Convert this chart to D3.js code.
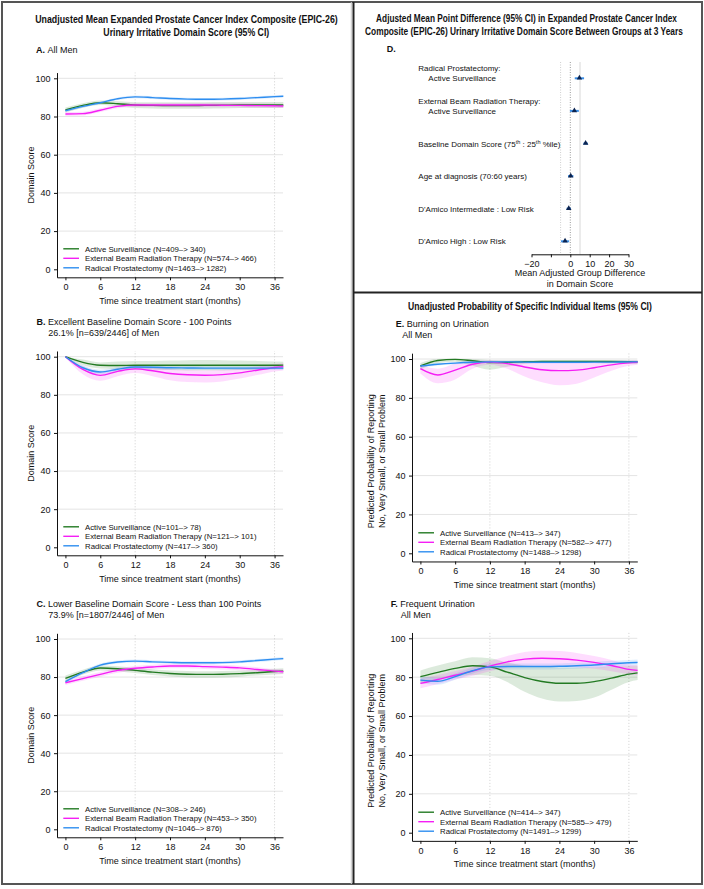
<!DOCTYPE html>
<html><head><meta charset="utf-8">
<script src="https://cdn.jsdelivr.net/npm/d3@7"></script>
<style>
body{margin:0;background:#fff}
text{font-family:"Liberation Sans",Arial,Helvetica,sans-serif;fill:#111}
</style>
</head><body>
<svg id="chart" width="704" height="889"></svg>
<script>
// ---------- DATA ----------
const months = [0, 3, 6, 9, 12, 15, 18, 21, 24, 27, 30, 33, 36, 37.5];
const xTicks = [0, 6, 12, 18, 24, 30, 36];
const yTicks = [0, 20, 40, 60, 80, 100];
const groups = ["Active Surveillance", "External Beam Radiation Therapy", "Radical Prostatectomy"];

// Panel A: All Men
const aAS   = [83.4, 85.8, 87.2, 86.7, 86.0, 85.8, 85.7, 85.7, 85.8, 85.9, 86.0, 86.0, 86.0, 86.0];
const aASlo = [82.1, 84.6, 86.0, 85.4, 84.5, 84.2, 84.0, 84.0, 84.1, 84.2, 84.4, 84.4, 84.4, 84.4];
const aAShi = [84.7, 87.0, 88.4, 88.0, 87.5, 87.4, 87.4, 87.4, 87.5, 87.6, 87.6, 87.6, 87.6, 87.6];
const aEB   = [81.3, 81.5, 83.3, 85.3, 86.0, 86.0, 86.0, 86.0, 86.0, 85.9, 85.8, 85.7, 85.6, 85.5];
const aEBlo = [80.3, 80.5, 82.3, 84.3, 85.0, 85.0, 84.9, 84.9, 84.9, 84.8, 84.7, 84.6, 84.5, 84.4];
const aEBhi = [82.3, 82.5, 84.3, 86.3, 87.0, 87.0, 87.1, 87.1, 87.1, 87.0, 86.9, 86.8, 86.7, 86.6];
const aRP   = [83.0, 85.3, 87.2, 89.3, 90.3, 89.9, 89.4, 89.1, 89.0, 89.1, 89.4, 89.9, 90.4, 90.6];
const aRPlo = [82.3, 84.6, 86.5, 88.6, 89.6, 89.2, 88.7, 88.4, 88.3, 88.4, 88.7, 89.2, 89.7, 89.9];
const aRPhi = [83.7, 86.0, 87.9, 90.0, 91.0, 90.6, 90.1, 89.8, 89.7, 89.8, 90.1, 90.6, 91.1, 91.3];
const aN = ["(N=409–> 340)", "(N=574–> 466)", "(N=1463–> 1282)"];

// Panel B: Excellent baseline
const bAS   = [100, 97.0, 95.5, 95.4, 95.5, 95.5, 95.5, 95.5, 95.5, 95.5, 95.5, 95.5, 95.5, 95.6];
const bASlo = [99.6, 95.5, 93.8, 93.5, 93.3, 93.2, 93.0, 92.8, 92.8, 92.8, 93.0, 93.2, 93.5, 93.6];
const bAShi = [100, 98.5, 97.0, 97.5, 97.8, 97.8, 98.0, 98.2, 98.3, 98.2, 98.0, 97.8, 97.5, 97.4];
const bEB   = [100, 93.3, 90.2, 92.3, 93.6, 92.6, 91.2, 90.5, 90.3, 90.6, 91.5, 92.9, 94.3, 94.8];
const bEBlo = [99.6, 90.8, 87.4, 89.8, 91.4, 89.8, 87.7, 86.7, 86.5, 87.0, 88.5, 90.4, 92.3, 92.8];
const bEBhi = [100, 95.3, 92.4, 94.1, 95.2, 94.6, 93.6, 93.0, 92.8, 93.0, 93.7, 94.9, 96.1, 96.6];
const bRP   = [100, 94.2, 92.0, 93.4, 94.6, 94.5, 94.2, 94.1, 94.0, 94.0, 94.0, 94.0, 94.0, 94.0];
const bRPlo = [99.8, 93.0, 90.8, 92.4, 93.6, 93.5, 93.2, 93.1, 93.0, 93.0, 93.0, 93.0, 93.0, 93.0];
const bRPhi = [100, 95.4, 93.2, 94.4, 95.6, 95.5, 95.2, 95.1, 95.0, 95.0, 95.0, 95.0, 95.0, 95.0];
const bN = ["(N=101–> 78)", "(N=121–> 101)", "(N=417–> 360)"];

// Panel C: Lower baseline
const cAS   = [79.3, 82.6, 84.8, 84.4, 83.5, 82.6, 81.9, 81.5, 81.4, 81.5, 81.8, 82.3, 82.9, 83.1];
const cASlo = [77.8, 81.3, 83.5, 83.1, 82.1, 81.1, 80.3, 79.8, 79.7, 79.8, 80.2, 80.8, 81.4, 81.6];
const cAShi = [80.8, 83.9, 86.1, 85.7, 84.9, 84.1, 83.5, 83.2, 83.1, 83.2, 83.4, 83.8, 84.4, 84.6];
const cEB   = [77.0, 79.2, 81.4, 83.5, 84.6, 85.3, 85.8, 85.8, 85.5, 85.2, 84.8, 84.0, 83.1, 82.8];
const cEBlo = [75.8, 78.0, 80.2, 82.3, 83.4, 84.1, 84.6, 84.6, 84.3, 84.0, 83.6, 82.8, 81.9, 81.6];
const cEBhi = [78.2, 80.4, 82.6, 84.7, 85.8, 86.5, 87.0, 87.0, 86.7, 86.4, 86.0, 85.2, 84.3, 84.0];
const cRP   = [77.6, 82.3, 86.3, 87.9, 88.4, 88.0, 87.7, 87.5, 87.5, 87.6, 88.0, 88.7, 89.4, 89.7];
const cRPlo = [76.8, 81.5, 85.5, 87.1, 87.6, 87.2, 86.9, 86.7, 86.7, 86.8, 87.2, 87.9, 88.6, 88.9];
const cRPhi = [78.4, 83.1, 87.1, 88.7, 89.2, 88.8, 88.5, 88.3, 88.3, 88.4, 88.8, 89.5, 90.2, 90.5];
const cN = ["(N=308–> 246)", "(N=453–> 350)", "(N=1046–> 876)"];

// Panel E: Burning on urination
const eAS   = [96.4, 99.2, 99.8, 99.1, 98.2, 98.3, 98.6, 98.8, 98.8, 98.8, 98.8, 98.7, 98.6, 98.5];
const eASlo = [94.5, 98.0, 98.6, 96.5, 94.5, 96.0, 97.5, 98.0, 98.0, 98.0, 98.0, 97.8, 97.5, 97.4];
const eAShi = [98.0, 100, 100, 100, 99.5, 99.4, 99.5, 99.5, 99.5, 99.5, 99.5, 99.4, 99.3, 99.3];
const eEB   = [95.0, 91.8, 94.3, 97.3, 98.4, 97.6, 95.9, 94.5, 94.0, 94.3, 95.5, 97.0, 98.0, 98.3];
const eEBlo = [92.5, 87.5, 89.5, 95.0, 97.0, 95.0, 91.0, 88.0, 86.5, 87.3, 90.5, 94.0, 96.5, 97.0];
const eEBhi = [97.0, 95.0, 97.5, 98.8, 99.3, 99.0, 98.5, 98.2, 98.0, 98.2, 98.5, 99.0, 99.2, 99.3];
const eRP   = [96.4, 97.3, 97.9, 98.3, 98.5, 98.5, 98.4, 98.3, 98.3, 98.3, 98.4, 98.4, 98.5, 98.5];
const eRPlo = [95.6, 96.7, 97.3, 97.7, 97.9, 97.9, 97.8, 97.7, 97.7, 97.7, 97.8, 97.8, 97.9, 97.9];
const eRPhi = [97.2, 97.9, 98.5, 98.9, 99.1, 99.1, 99.0, 98.9, 98.9, 98.9, 99.0, 99.0, 99.1, 99.1];
const eN = ["(N=413–> 347)", "(N=582–> 477)", "(N=1488–> 1298)"];

// Panel F: Frequent urination
const fAS   = [80.3, 82.5, 84.5, 85.9, 85.3, 82.6, 79.8, 77.8, 76.9, 76.9, 77.7, 79.5, 81.6, 82.2];
const fASlo = [77.0, 79.0, 80.5, 81.0, 80.8, 77.5, 72.5, 69.0, 67.5, 67.8, 69.5, 73.5, 77.5, 78.5];
const fAShi = [83.5, 86.0, 88.2, 90.2, 89.8, 87.5, 86.0, 85.5, 85.0, 85.0, 85.0, 85.5, 85.8, 86.0];
const fEB   = [76.8, 78.8, 81.0, 83.1, 85.7, 87.9, 89.3, 89.7, 89.5, 88.8, 87.6, 86.0, 84.0, 83.5];
const fEBlo = [74.3, 76.5, 78.8, 80.8, 83.1, 84.9, 85.7, 85.8, 85.5, 85.1, 84.3, 83.1, 81.5, 81.0];
const fEBhi = [79.3, 81.1, 83.2, 85.4, 88.3, 90.9, 92.9, 93.6, 93.5, 92.5, 90.9, 88.9, 86.5, 86.0];
const fRP   = [78.5, 77.9, 80.3, 83.3, 85.3, 85.5, 85.5, 85.5, 85.6, 85.9, 86.3, 86.9, 87.4, 87.6];
const fRPlo = [76.7, 76.1, 78.7, 81.8, 83.8, 84.0, 84.0, 84.0, 84.1, 84.4, 84.8, 85.4, 85.9, 86.1];
const fRPhi = [80.3, 79.7, 81.9, 84.8, 86.8, 87.0, 87.0, 87.0, 87.1, 87.4, 87.8, 88.4, 88.9, 89.1];
const fN = ["(N=414–> 347)", "(N=585–> 479)", "(N=1491–> 1299)"];

// Panel D: forest plot
const forestLabels = [
  ["Radical Prostatectomy:", "Active Surveillance"],
  ["External Beam Radiation Therapy:", "Active Surveillance"],
  ["Baseline Domain Score (75|th| : 25|th| %ile)"],
  ["Age at diagnosis (70:60 years)"],
  ["D'Amico Intermediate : Low Risk"],
  ["D'Amico High : Low Risk"]
];
const forestEst = [4.7, 2.1, 7.9, 0.2, -0.8, -2.7];
const forestLo  = [2.3, -0.2, 6.8, -1.2, -1.9, -4.8];
const forestHi  = [7.1, 4.4, 9.0, 1.6, 0.3, -0.6];
const forestTicks = [-20, -10, 0, 10, 20, 30];

// ---------- STYLE ----------
const colors = ["#237a23", "#f51ef5", "#2e8ef0"];
const fills  = ["rgba(35,122,35,0.16)", "rgba(245,30,245,0.15)", "rgba(46,142,240,0.15)"];

const svg = d3.select("#chart");

function addText(x, y, str, opts = {}) {
  const t = svg.append("text").attr("x", x).attr("y", y).text(str)
    .attr("font-size", opts.size || 9)
    .attr("text-anchor", opts.anchor || "start");
  if (opts.bold) t.attr("font-weight", "bold");
  return t;
}

// bold title condensed horizontally to a target width
function fitTitle(cx, y, str, width) {
  const t = svg.append("text").attr("font-size", 11.5).attr("font-weight", "bold")
    .attr("text-anchor", "middle").text(str);
  const w = t.node().getComputedTextLength();
  t.attr("transform", `translate(${cx},${y}) scale(${width / w},1)`);
}

function drawPanel(p) {
  const g = svg.append("g");
  const x = d3.scaleLinear().domain([-1.45, 37.45]).range([p.left, p.right]);
  const k = (p.y0 - p.y100) / 100;
  const y = d3.scaleLinear().domain([-4.2, 103]).range([p.y0 + 4.2 * k, p.y100 - 3 * k]);

  g.selectAll("line.hg").data(yTicks.filter(d => d > 0)).enter().append("line")
    .attr("x1", x(-1.45)).attr("x2", x(37.45)).attr("y1", d => y(d)).attr("y2", d => y(d))
    .attr("stroke", "#e4e4e4").attr("stroke-width", 1);
  g.selectAll("line.vg").data([12, 36]).enter().append("line")
    .attr("x1", d => x(d)).attr("x2", d => x(d)).attr("y1", y(-4.2)).attr("y2", y(103))
    .attr("stroke", "#cfcfcf").attr("stroke-width", 1).attr("stroke-dasharray", "1,2");

  const series = p.series;
  const area = d3.area().x((d, i) => x(months[i])).y0(d => y(d[0])).y1(d => y(d[1])).curve(d3.curveMonotoneX);
  const line = d3.line().x((d, i) => x(months[i])).y(d => y(d)).curve(d3.curveMonotoneX);
  series.forEach((s, j) => {
    g.append("path").datum(s.lo.map((v, i) => [v, s.hi[i]])).attr("d", area)
      .attr("fill", fills[j]).attr("stroke", "none");
  });
  series.forEach((s, j) => {
    g.append("path").datum(s.mean).attr("d", line)
      .attr("fill", "none").attr("stroke", colors[j]).attr("stroke-width", 1.4);
  });

  const ya = g.append("g").attr("transform", `translate(${p.left},0)`)
    .call(d3.axisLeft(y).tickValues(yTicks).tickSize(3).tickSizeOuter(0).tickPadding(3.5));
  const xa = g.append("g").attr("transform", `translate(0,${y(-4.2)})`)
    .call(d3.axisBottom(x).tickValues(xTicks).tickSize(3).tickSizeOuter(0).tickPadding(3.5));
  [ya, xa].forEach(a => {
    a.selectAll("text").attr("font-size", 9).attr("font-family", null).attr("fill", "#111");
    a.select(".domain").attr("stroke", "#111");
    a.selectAll(".tick line").attr("stroke", "#111");
  });

  addText((p.left + p.right) / 2, y(-4.2) + 26.5, "Time since treatment start (months)", { anchor: "middle" });
  const cy = (y(-4.2) + y(103)) / 2 + (p.ylabelShift || 0);
  p.ylabel.forEach((lab, i) => {
    const xx = p.left + p.ylabelX[i];
    svg.append("text").attr("transform", `translate(${xx},${cy}) rotate(-90)`)
      .attr("text-anchor", "middle").attr("font-size", 9).text(lab);
  });

  const offs = [-20.5, -11, -1.5];
  series.forEach((s, j) => {
    const yy = p.y0 + offs[j];
    g.append("line").attr("x1", p.left + 6.3).attr("x2", p.left + 22).attr("y1", yy).attr("y2", yy)
      .attr("stroke", colors[j]).attr("stroke-width", 1.4);
    addText(p.left + 28, yy + 2.8, groups[j] + " " + p.legendN[j], { size: 7.8 });
  });
}

// ---------- FRAME ----------
svg.append("rect").attr("x", 2).attr("y", 2).attr("width", 700).attr("height", 882)
  .attr("fill", "none").attr("stroke", "#555").attr("stroke-width", 2);
svg.append("line").attr("x1", 351.3).attr("x2", 351.3).attr("y1", 2).attr("y2", 884)
  .attr("stroke", "#c8c8c8").attr("stroke-width", 1);
svg.append("line").attr("x1", 353.5).attr("x2", 353.5).attr("y1", 2).attr("y2", 884)
  .attr("stroke", "#222").attr("stroke-width", 2);
svg.append("line").attr("x1", 353.5).attr("x2", 702).attr("y1", 292.5).attr("y2", 292.5)
  .attr("stroke", "#222").attr("stroke-width", 2);

// ---------- TITLES ----------
fitTitle(186.5, 23, "Unadjusted Mean Expanded Prostate Cancer Index Composite (EPIC-26)", 303);
fitTitle(186.3, 35.5, "Urinary Irritative Domain Score (95% CI)", 166);
fitTitle(526.5, 21.8, "Adjusted Mean Point Difference (95% CI) in Expanded Prostate Cancer Index", 301);
fitTitle(524, 35.3, "Composite (EPIC-26) Urinary Irritative Domain Score  Between Groups at 3 Years", 318);
fitTitle(530, 309.5, "Unadjusted Probability of Specific Individual Items (95% CI)", 244);

function panelLabel(x, y, letter, line1, line2, x2, y2) {
  const t = svg.append("text").attr("x", x).attr("y", y).attr("font-size", 9);
  t.append("tspan").attr("font-weight", "bold").text(letter + " ");
  t.append("tspan").text(line1);
  if (line2) addText(x2, y2, line2);
}
panelLabel(36, 53, "A.", "All Men");
panelLabel(36.5, 325.3, "B.", "Excellent Baseline Domain Score - 100 Points", "26.1% [n=639/2446] of Men", 48.3, 335.5);
panelLabel(36.5, 607, "C.", "Lower Baseline Domain Score - Less than 100 Points", "73.9% [n=1807/2446] of Men", 48.3, 617.5);
svg.append("text").attr("x", 386.7).attr("y", 51.7).attr("font-size", 9).attr("font-weight", "bold").text("D.");
panelLabel(395.7, 327.3, "E.", "Burning on Urination", "All Men", 402.3, 338);
panelLabel(390.7, 607.3, "F.", "Frequent Urination", "All Men", 400.7, 617.7);

// ---------- LINE PANELS ----------
const domainLab = ["Domain Score"];
const probLab = ["Predicted Probability of Reporting", "No, Very Small, or Small Problem"];
drawPanel({ left: 57, right: 283, y0: 269.3, y100: 78.3, legendN: aN, ylabel: domainLab, ylabelX: [-23],
  series: [{ mean: aAS, lo: aASlo, hi: aAShi }, { mean: aEB, lo: aEBlo, hi: aEBhi }, { mean: aRP, lo: aRPlo, hi: aRPhi }] });
drawPanel({ left: 57, right: 283, y0: 547.3, y100: 356.7, legendN: bN, ylabel: domainLab, ylabelX: [-23],
  series: [{ mean: bAS, lo: bASlo, hi: bAShi }, { mean: bEB, lo: bEBlo, hi: bEBhi }, { mean: bRP, lo: bRPlo, hi: bRPhi }] });
drawPanel({ left: 57, right: 283, y0: 829.3, y100: 639, legendN: cN, ylabel: domainLab, ylabelX: [-23],
  series: [{ mean: cAS, lo: cASlo, hi: cAShi }, { mean: cEB, lo: cEBlo, hi: cEBhi }, { mean: cRP, lo: cRPlo, hi: cRPhi }] });
drawPanel({ left: 412, right: 637.3, y0: 553.3, y100: 359, legendN: eN, ylabel: probLab, ylabelX: [-38, -27], ylabelShift: 4,
  series: [{ mean: eAS, lo: eASlo, hi: eAShi }, { mean: eEB, lo: eEBlo, hi: eEBhi }, { mean: eRP, lo: eRPlo, hi: eRPhi }] });
drawPanel({ left: 412, right: 637.3, y0: 832.7, y100: 638.3, legendN: fN, ylabel: probLab, ylabelX: [-38, -27], ylabelShift: 4,
  series: [{ mean: fAS, lo: fASlo, hi: fAShi }, { mean: fEB, lo: fEBlo, hi: fEBhi }, { mean: fRP, lo: fRPlo, hi: fRPhi }] });

// ---------- FOREST PANEL ----------
(function () {
  const g = svg.append("g");
  const fx = d3.scaleLinear().domain([-20, 30]).range([531.5, 628.5]);
  const fy = d3.scalePoint().domain(d3.range(forestEst.length)).range([78.3, 241.3]);
  const axisY = 254.3;
  g.append("line").attr("x1", fx(-5)).attr("x2", fx(-5)).attr("y1", 62).attr("y2", axisY)
    .attr("stroke", "#cfcfcf").attr("stroke-dasharray", "1,1.5");
  g.append("line").attr("x1", fx(5)).attr("x2", fx(5)).attr("y1", 62).attr("y2", axisY)
    .attr("stroke", "#d8d8d8");
  g.append("line").attr("x1", fx(0)).attr("x2", fx(0)).attr("y1", 62).attr("y2", axisY)
    .attr("stroke", "#9a9a9a").attr("stroke-dasharray", "1,1.5");
  g.selectAll("line.ci").data(forestEst).enter().append("line")
    .attr("x1", (d, i) => fx(forestLo[i])).attr("x2", (d, i) => fx(forestHi[i]))
    .attr("y1", (d, i) => fy(i)).attr("y2", (d, i) => fy(i))
    .attr("stroke", "#3a8ee6").attr("stroke-width", 2);
  g.selectAll("path.pt").data(forestEst).enter().append("path")
    .attr("d", d3.symbol(d3.symbolTriangle, 13))
    .attr("transform", (d, i) => `translate(${fx(d)},${fy(i) - 0.3})`)
    .attr("fill", "#0b2350");
  forestLabels.forEach((lines, i) => {
    const n = lines.length;
    lines.forEach((lab, j) => {
      const yy = fy(i) + 3 - (n - 1 - j) * 10;
      const xx = j === 0 ? 418.3 : 428.3;
      const t = svg.append("text").attr("x", xx).attr("y", yy).attr("font-size", 8);
      lab.split("|").forEach((part, q) => {
        const ts = t.append("tspan").text(part);
        if (q % 2 === 1) ts.attr("font-size", 5.5).attr("dy", -3);
        else if (q > 0) ts.attr("dy", 3);
      });
    });
  });
  const ax = g.append("g").attr("transform", `translate(0,${axisY})`)
    .call(d3.axisBottom(fx).tickValues(forestTicks).tickSize(3).tickSizeOuter(0).tickPadding(3.5)
      .tickFormat(d => d === -10 ? "" : d3.format("")(d)));
  ax.selectAll("text").attr("font-size", 9).attr("font-family", null).attr("fill", "#111");
  ax.select(".domain").attr("stroke", "#111");
  ax.selectAll(".tick line").attr("stroke", "#111");
  addText(580, 276, "Mean Adjusted Group Difference", { anchor: "middle" });
  addText(580, 287, "in Domain Score", { anchor: "middle" });
})();
</script>
</body></html>
